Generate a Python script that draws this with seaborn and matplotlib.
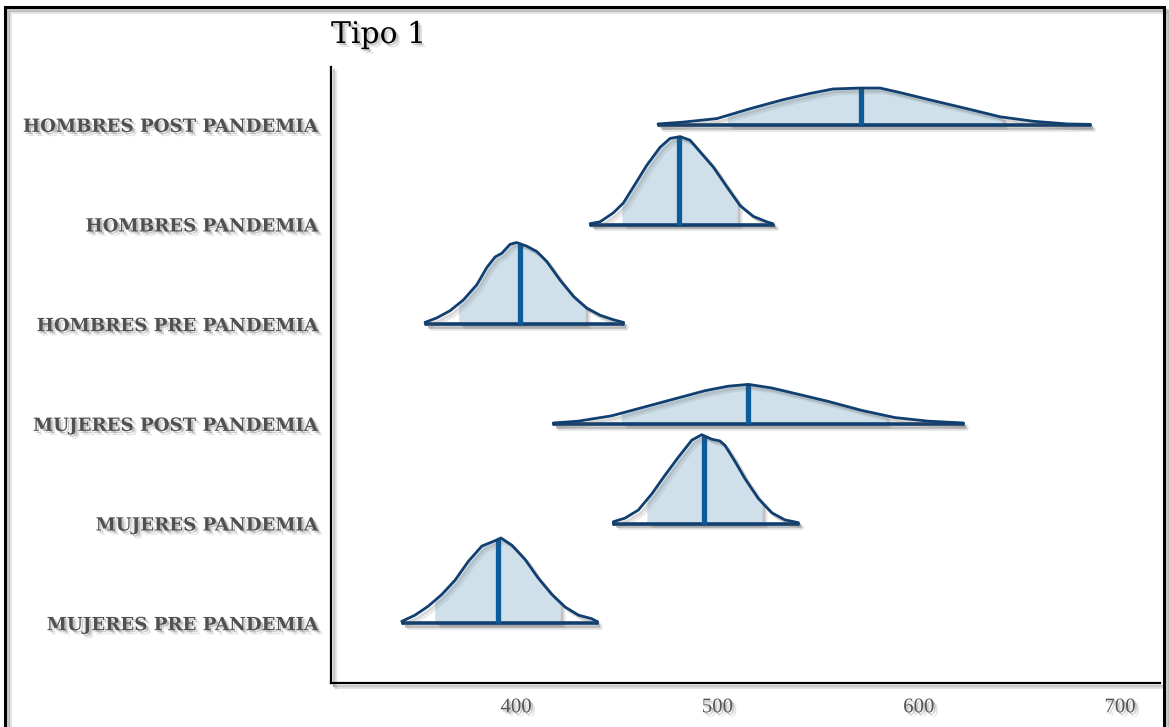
import numpy as np
import pandas as pd
import matplotlib
matplotlib.use("Agg")
import matplotlib.pyplot as plt
import matplotlib.patheffects as pe
from matplotlib.patches import Rectangle
import seaborn as sns

# ---- data -------------------------------------------------------------
groups = ["MUJERES PRE PANDEMIA", "MUJERES PANDEMIA", "MUJERES POST PANDEMIA",
          "HOMBRES PRE PANDEMIA", "HOMBRES PANDEMIA", "HOMBRES POST PANDEMIA"]

# density curves: x values and relative density (tallest slab = 1)
mujeres_pre_x = [343.2, 349.8, 356.4, 363.1, 369.7, 376.3, 383.0, 389.6, 392.5,
                 397.9, 404.5, 411.1, 417.8, 424.4, 431.0, 437.6, 440.1]
mujeres_pre_d = [0.02, 0.09, 0.19, 0.32, 0.48, 0.69, 0.86, 0.92, 0.95,
                 0.87, 0.71, 0.50, 0.32, 0.18, 0.09, 0.05, 0.02]

mujeres_pan_x = [448.3, 454.1, 460.7, 467.4, 474.0, 480.6, 487.3, 492.2, 497.2,
                 501.3, 503.8, 508.8, 513.7, 520.3, 527.0, 533.6, 540.2]
mujeres_pan_d = [0.02, 0.06, 0.15, 0.33, 0.54, 0.74, 0.93, 0.99, 0.94,
                 0.92, 0.87, 0.69, 0.50, 0.28, 0.12, 0.04, 0.01]

mujeres_post_x = [418.5, 430.9, 447.5, 464.1, 480.6, 493.9, 505.4, 515.4,
                  527.0, 540.2, 555.1, 571.7, 588.2, 604.8, 622.2]
mujeres_post_d = [0.01, 0.03, 0.09, 0.19, 0.29, 0.37, 0.42, 0.44,
                  0.40, 0.33, 0.25, 0.15, 0.07, 0.03, 0.01]

hombres_pre_x = [354.8, 360.6, 367.2, 373.8, 380.5, 385.4, 389.6, 392.9, 397.0, 400.3,
                 405.3, 410.3, 415.2, 421.9, 428.5, 435.1, 441.7, 448.3, 453.3]
hombres_pre_d = [0.02, 0.07, 0.15, 0.27, 0.44, 0.63, 0.75, 0.79, 0.89, 0.91,
                 0.87, 0.81, 0.70, 0.49, 0.31, 0.18, 0.10, 0.05, 0.02]

hombres_pan_x = [436.8, 441.7, 448.3, 453.3, 458.3, 464.9, 471.5, 476.5, 481.5,
                 486.4, 491.4, 498.0, 504.7, 511.3, 517.9, 524.5, 527.5]
hombres_pan_d = [0.01, 0.03, 0.13, 0.24, 0.42, 0.66, 0.86, 0.96, 0.98,
                 0.94, 0.81, 0.64, 0.42, 0.21, 0.09, 0.03, 0.01]

hombres_post_x = [470.5, 482.9, 499.8, 516.2, 532.6, 546.0, 557.5, 570.9,
                  580.8, 590.7, 607.1, 624.0, 640.4, 656.8, 673.7, 685.1]
hombres_post_d = [0.01, 0.03, 0.07, 0.18, 0.28, 0.35, 0.40, 0.41,
                  0.41, 0.36, 0.27, 0.18, 0.09, 0.04, 0.01, 0.005]

medians = [390.9, 493.5, 515.4, 402.0, 481.1, 571.4]
interval_lo = [359.8, 465.2, 452.5, 371.7, 452.8, 505.3]
interval_hi = [422.2, 522.5, 584.1, 434.6, 510.1, 641.9]

x_ticks = [400, 500, 600, 700]
title = "Tipo 1"

curves_x = [mujeres_pre_x, mujeres_pan_x, mujeres_post_x,
            hombres_pre_x, hombres_pan_x, hombres_post_x]
curves_d = [mujeres_pre_d, mujeres_pan_d, mujeres_post_d,
            hombres_pre_d, hombres_pan_d, hombres_post_d]

# ---- styling ----------------------------------------------------------
sns.set_theme(style="white")
plt.rcParams["font.family"] = ["DejaVu Serif"]

OUTLINE = "#113f70"
MEDIAN = "#0c5b9b"
FILL = "#d0e0eb"
SCALE = 0.9


def patch_shadow(alpha=0.22, off=2.0):
    return [pe.SimplePatchShadow(offset=(off + 1.5, -off - 1.5), shadow_rgbFace="#505050", alpha=alpha * 0.5),
            pe.SimplePatchShadow(offset=(off, -off), shadow_rgbFace="#505050", alpha=alpha),
            pe.Normal()]


def line_shadow(alpha=0.25, off=2.0):
    return [pe.SimpleLineShadow(offset=(off + 1.5, -off - 1.5), shadow_color="#505050", alpha=alpha * 0.5, rho=1.0),
            pe.SimpleLineShadow(offset=(off, -off), shadow_color="#505050", alpha=alpha, rho=1.0),
            pe.Normal()]


# long table of slab outlines, offset by group position
rows = []
for i, (g, xs, ds) in enumerate(zip(groups, curves_x, curves_d)):
    pos = i + 1
    for x, d in zip(xs, ds):
        rows.append({"group": g, "x": x, "top": pos + SCALE * d, "pos": pos})
df = pd.DataFrame(rows)

fig = plt.figure(figsize=(11.69, 7.27), dpi=100)
ax = fig.add_axes([0.2832, 0.0605, 0.7092, 0.8473])

for i, (xs, ds) in enumerate(zip(curves_x, curves_d)):
    pos = i + 1
    xs = np.asarray(xs, float)
    top = pos + SCALE * np.asarray(ds, float)
    # full slab in white
    ax.fill_between(xs, pos, top, color="white", lw=0, zorder=2)
    # central interval in light blue
    lo, hi = interval_lo[i], interval_hi[i]
    inner = (xs > lo) & (xs < hi)
    ix = np.concatenate([[lo], xs[inner], [hi]])
    it = np.concatenate([[np.interp(lo, xs, top)], top[inner], [np.interp(hi, xs, top)]])
    poly = ax.fill_between(ix, pos, it, color=FILL, lw=0, zorder=3)
    poly.set_path_effects(patch_shadow(0.25))
    # baseline
    ax.plot([xs[0], xs[-1]], [pos, pos], color=OUTLINE, lw=2.6,
            solid_capstyle="butt", zorder=5, path_effects=line_shadow(0.3))
    # median
    m = medians[i]
    ax.plot([m, m], [pos, np.interp(m, xs, top)], color=MEDIAN, lw=3.8,
            solid_capstyle="butt", zorder=6)

# slab outlines
sns.lineplot(data=df, x="x", y="top", units="group", estimator=None, sort=False,
             color=OUTLINE, lw=2.0, ax=ax, zorder=7, legend=False)
for ln in ax.get_lines():
    if ln.get_linewidth() == 2.0:
        ln.set_path_effects(line_shadow(0.22))
        ln.set_solid_joinstyle("round")
# close slab ends down to the baseline
for i, (xs, ds) in enumerate(zip(curves_x, curves_d)):
    pos = i + 1
    for k in (0, -1):
        ax.plot([xs[k], xs[k]], [pos, pos + SCALE * ds[k]], color=OUTLINE, lw=2.0, zorder=7)

ax.set_xlim(308.1, 719.9)
ax.set_ylim(0.4, 6.58)
ax.set_xticks(x_ticks)
ax.set_xticklabels([str(t) for t in x_ticks])
ax.set_yticks(range(1, len(groups) + 1))
ax.set_yticklabels(groups)
ax.set_xlabel("")
ax.set_ylabel("")

for s in ("top", "right"):
    ax.spines[s].set_visible(False)
for s in ("left", "bottom"):
    ax.spines[s].set_color("black")
    ax.spines[s].set_linewidth(1.6)
    ax.spines[s].set_path_effects(line_shadow(0.3))

ax.tick_params(axis="y", length=4, width=2.8, color="#222222", pad=6, labelsize=13.1,
               labelcolor="#505050")
ax.tick_params(axis="x", length=4, width=0.8, color="#444444", pad=7, labelsize=15,
               labelcolor="#555555")
for lab in ax.get_yticklabels():
    lab.set_fontweight("bold")
    lab.set_path_effects(patch_shadow(0.3, 1.5))
for lab in ax.get_xticklabels():
    lab.set_family(["Liberation Serif", "DejaVu Serif"])
    lab.set_path_effects(patch_shadow(0.3, 1.5))

fig.text(331 / 1169, 1 - 35 / 727, title, fontsize=21.5, color="black", va="center", ha="left",
         path_effects=patch_shadow(0.3, 1.5))

# outer frame
frame = Rectangle((5 / 1169, -0.02), (1164 - 5) / 1169, 1.02 - 7 / 727, transform=fig.transFigure,
                  fill=False, lw=2.2, edgecolor="black", zorder=10)
frame.set_path_effects(line_shadow(0.3))
fig.add_artist(frame)

fig.savefig("out.png", dpi=100)
